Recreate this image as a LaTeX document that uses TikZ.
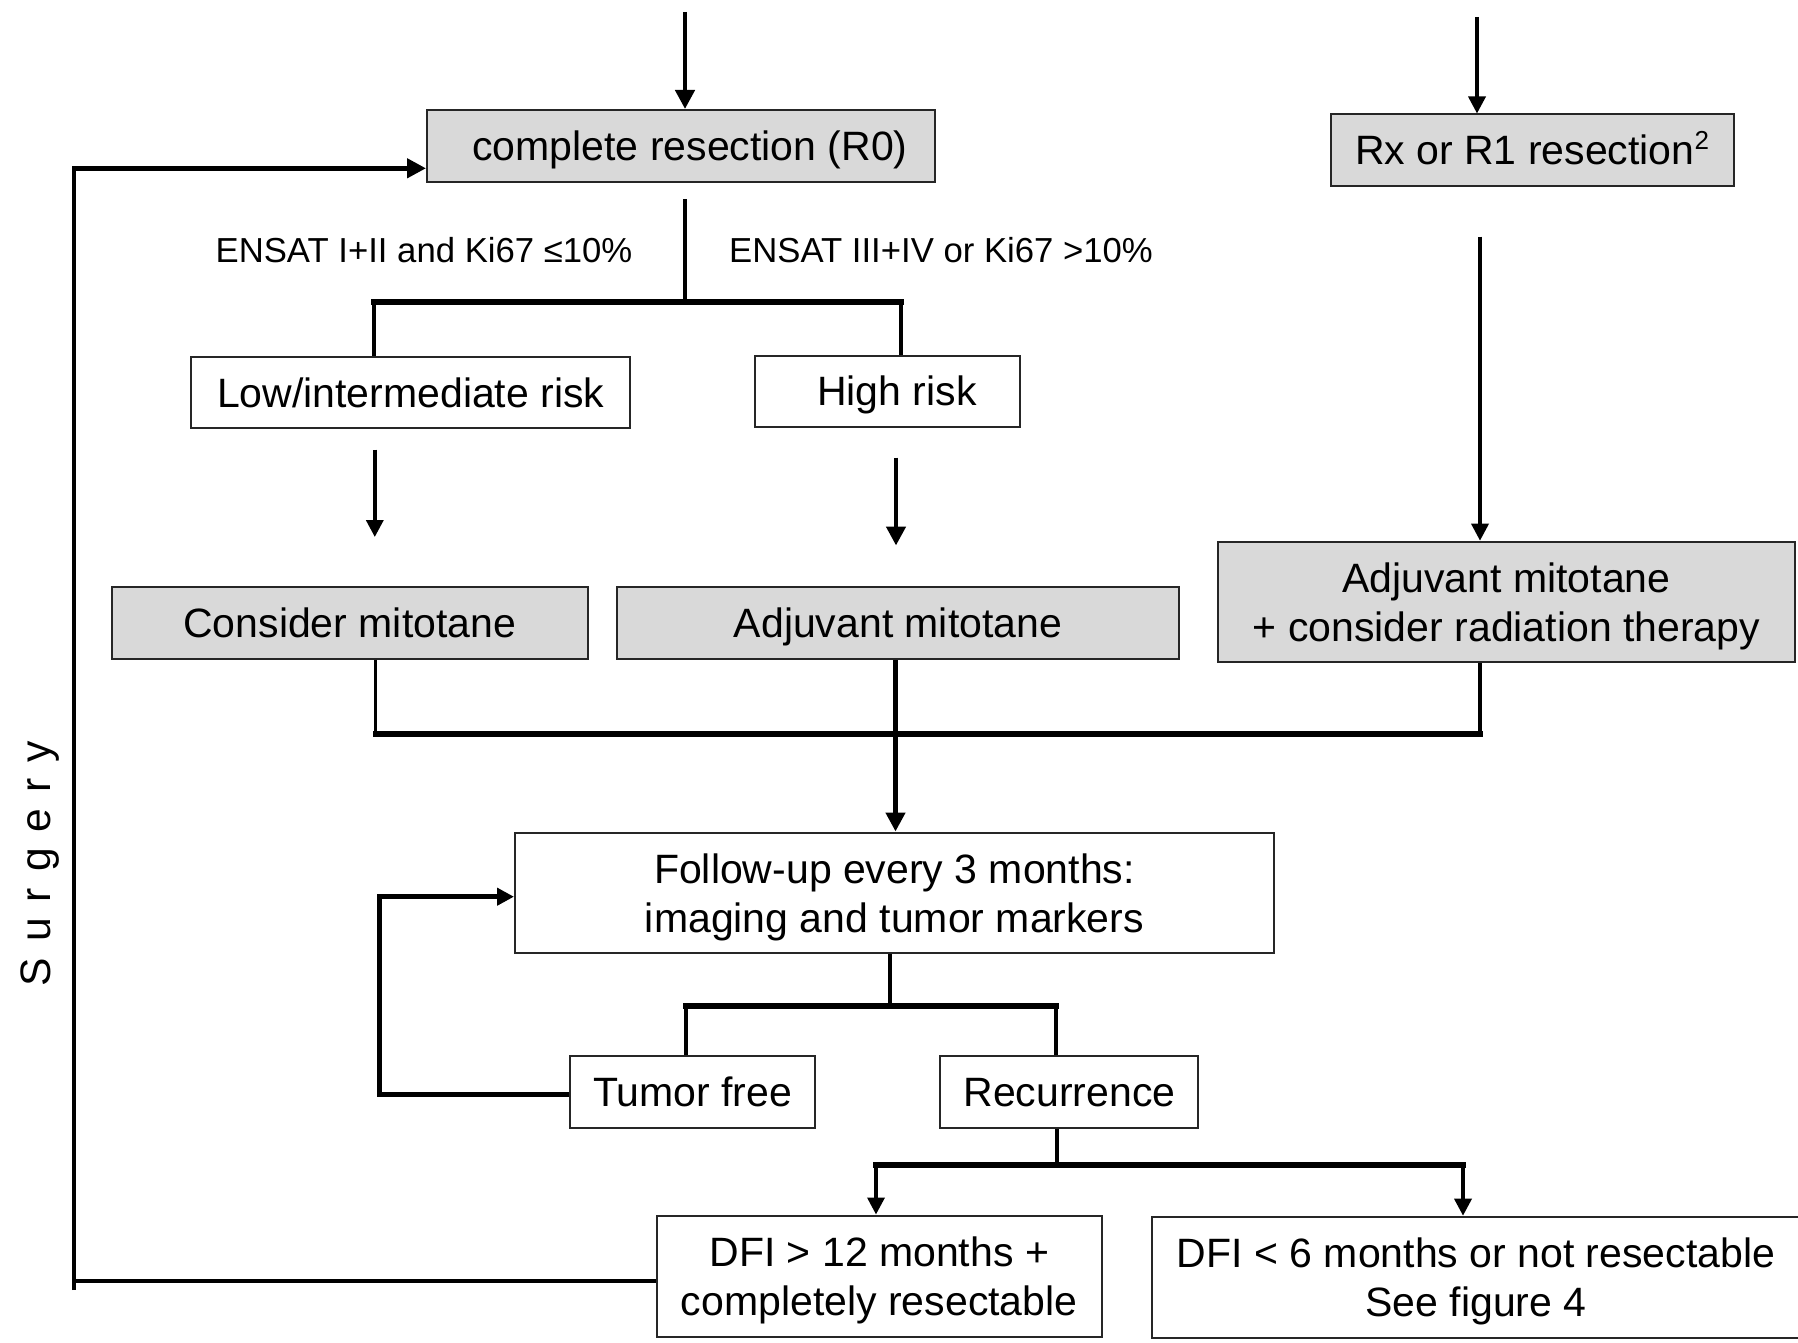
\documentclass[tikz,border=0pt]{standalone}
\usepackage{fontspec}
\setmainfont{Liberation Sans}
\usetikzlibrary{arrows.meta,calc}
\definecolor{boxgray}{HTML}{D9D9D9}
\newcommand{\bxfont}{\fontsize{20.5pt}{24.5pt}\selectfont}
\newcommand{\ensfont}{\fontsize{17.35pt}{20pt}\selectfont}
\newcommand{\sgfont}{\fontsize{21.3pt}{24pt}\selectfont}
\newcommand{\sgap}{\hspace{8pt}}
\newcommand{\nd}[1]{\raisebox{0pt}[\height][0pt]{#1}}
\begin{document}
\begin{tikzpicture}[x=0.5pt,y=-0.5pt,
  box/.style={draw=black!85, line width=1pt, rectangle, inner sep=0pt, align=center, font=\bxfont},
  gbox/.style={box, fill=boxgray},
  wbox/.style={box, fill=white},
  conn/.style={line width=2.25pt},
  connthin/.style={line width=1.75pt},
  bar/.style={line width=3pt, line cap=rect},
  arr/.style={-{Triangle[length=9.5pt,width=9.5pt]}},
  arrs/.style={-{Triangle[length=8.5pt,width=8.5pt]}}
]
\useasboundingbox (0,0) rectangle (1798,1343);
\fill[white] (0,0) rectangle (1798,1343);

% boxes
\node[gbox, minimum width=254pt, minimum height=35.75pt] (r0) at (681,145.75) {\hspace{9pt}\nd{complete resection (R0)}};
\node[gbox, minimum width=201.5pt, minimum height=35.75pt] (rx) at (1532.5,150.25) {Rx or R1 resection\smash{\textsuperscript{\fontsize{13pt}{13pt}\selectfont 2}}};
\node[wbox, minimum width=219.35pt, minimum height=35.8pt] (low) at (410.7,392.5) {\nd{Low/intermediate risk}};
\node[wbox, minimum width=132.5pt, minimum height=35.5pt] (high) at (887,391) {\hspace{10pt}\nd{High risk}};
\node[gbox, minimum width=238.25pt, minimum height=35.75pt] (consider) at (349.75,622.75) {\nd{Consider mitotane}};
\node[gbox, minimum width=281pt, minimum height=35.75pt] (adjm) at (898,622.75) {\nd{Adjuvant mitotane}};
\node[gbox, minimum width=288.5pt, minimum height=60.15pt] (adjr) at (1506.5,601.85) {Adjuvant mitotane\\\nd{+ consider radiation therapy}};
\node[wbox, minimum width=379.5pt, minimum height=60.25pt] (fu) at (894.5,892.75) {Follow-up every 3 months:\\\nd{imaging and tumor markers}};
\node[wbox, minimum width=122.5pt, minimum height=36pt] (tf) at (692.5,1092) {\nd{Tumor free}};
\node[wbox, minimum width=129pt, minimum height=36pt] (rec) at (1069.4,1092) {\nd{Recurrence}};
\node[wbox, minimum width=222.25pt, minimum height=60.75pt] (dfi12) at (879.25,1276.25) {DFI > 12 months +\\\nd{completely resectable}};
\node[wbox, minimum width=324pt, minimum height=60.8pt] (dfi6) at (1476,1277.5) {DFI < 6 months or not resectable\\\nd{See figure 4}};

% labels
\node[font=\ensfont, inner sep=0pt] (e1) at (424,250) {ENSAT I+II and Ki67 ≤10\%};
\node[font=\ensfont, inner sep=0pt] (e2) at (941,250) {ENSAT III+IV or Ki67 >10\%};
\node[rotate=90, anchor=base, font=\sgfont, inner sep=0pt] (surg) at (50,863.5) {S\sgap u\sgap r\sgap g\sgap e\sgap r\sgap y};

% top inputs
\coordinate (t1) at (685,12);
\draw[conn, arr] (t1) -- (t1 |- r0.north);
\coordinate (t2) at (1477,17);
\draw[connthin, arrs] (t2) -- (t2 |- rx.north);

% R0 split
\coordinate (s1) at (685,199);
\coordinate (s2) at (685,301.7);
\coordinate (b1L) at (374,301.7);
\coordinate (b1R) at (901,301.7);
\draw[conn] (s1) -- (s2);
\draw[connthin] (b1L) -- (b1L |- low.north);
\draw[conn] (b1R) -- (b1R |- high.north);
\draw[bar] (b1L) -- (b1R);

% risk -> therapy
\coordinate (a1s) at (374.8,449.5);
\coordinate (a1e) at (374.8,537);
\draw[connthin, arrs] (a1s) -- (a1e);
\coordinate (a2s) at (896,457.5);
\coordinate (a2e) at (896,545.5);
\draw[conn, arr] (a2s) -- (a2e);

% Rx -> adjuvant + radiation
\coordinate (rx1) at (1480,236.6);
\draw[connthin, arrs] (rx1) -- (rx1 |- adjr.north);

% merge to follow-up
\coordinate (m1) at (375.5,734);
\coordinate (m2) at (1480,734);
\draw[connthin] (m1 |- consider.south) -- (m1);
\draw[conn] (m2 |- adjr.south) -- (m2);
\draw[bar] (m1) -- (m2);
\coordinate (am) at (895.5,660);
\draw[conn, arr] (am) -- (am |- fu.north);

% follow-up split
\coordinate (f1) at (890,1005.7);
\coordinate (f1L) at (686,1005.7);
\coordinate (f1R) at (1056,1005.7);
\draw[connthin] (f1 |- fu.south) -- (f1);
\draw[connthin] (f1L) -- (f1L |- tf.north);
\draw[connthin] (f1R) -- (f1R |- rec.north);
\draw[bar] (f1L) -- (f1R);

% tumor free feedback
\coordinate (fb1) at (379.3,1094.3);
\coordinate (fb2) at (379.3,896.7);
\draw[conn, arrs] (tf.west |- fb1) -- (fb1) -- (fb2) -- (fb2 -| fu.west);

% recurrence split
\coordinate (r1) at (1057,1165);
\coordinate (r1L) at (876,1165);
\coordinate (r1R) at (1463,1165);
\draw[connthin] (r1 |- rec.south) -- (r1);
\draw[bar] (r1L) -- (r1R);
\draw[connthin, arrs] (r1L) -- (r1L |- dfi12.north);
\draw[connthin, arrs] (r1R) -- (r1R |- dfi6.north);

% surgery loop
\coordinate (sg0) at (74,1290);
\coordinate (sg1) at (74,1281);
\coordinate (sg2) at (74,168.3);
\draw[conn] (dfi12.west |- sg1) -- (sg1);
\draw[conn, arr] (sg0) -- (sg2) -- (sg2 -| r0.west);
\end{tikzpicture}
\end{document}
